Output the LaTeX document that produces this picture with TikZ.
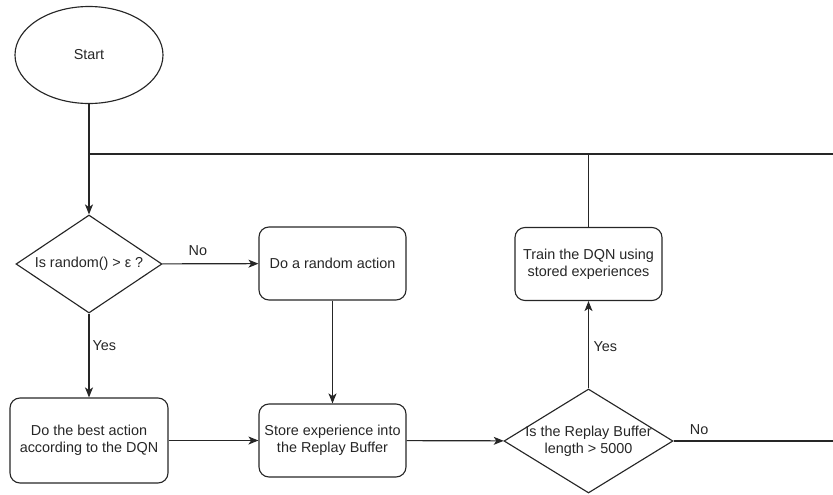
\documentclass[tikz,border=0pt]{standalone}
\usepackage{fontspec}
\setmainfont{Liberation Sans}
\usetikzlibrary{shapes.geometric,arrows.meta}

\tikzset{
  every node/.style={font=\fontsize{10.8pt}{12.6pt}\selectfont, text=black!85},
  flow/.style={draw=black!85, line width=0.85pt},
  arr/.style={flow, -{Stealth[length=7.5pt,width=6pt,inset=2pt]}},
  procbox/.style={draw=black!85, line width=0.85pt, rounded corners=7.5pt,
    minimum width=110.25pt, minimum height=54.75pt, align=center, inner sep=1pt},
  decision/.style={draw=black!85, line width=0.85pt, shape=diamond,
    inner sep=0pt, aspect=1.5},
  terminal/.style={draw=black!85, line width=0.85pt, shape=ellipse,
    minimum width=111pt, minimum height=72.75pt},
  edgelabel/.style={font=\fontsize{10.8pt}{12.6pt}\selectfont}
}

\begin{document}
\begin{tikzpicture}[x=0.75pt, y=-0.75pt]
  \useasboundingbox (0,0) rectangle (833,494);

  % nodes
  \node[terminal] (start) at (89,55) {Start};
  \node[decision, minimum width=109.5pt, minimum height=73.5pt,
        label={center:Is random() > ε ?}] (rnd) at (89,264) {};
  \node[procbox] (randact) at (332.5,263.5) {Do a random action};
  \node[procbox, minimum width=118.5pt, minimum height=63.75pt] (best) at (89,440.5)
        {Do the best action\\according to the DQN};
  \node[procbox] (store) at (332.5,440.5) {Store experience into\\the Replay Buffer};
  \node[decision, minimum width=126.75pt, minimum height=78pt,
        label={[align=center]center:Is the Replay Buffer\\length > 5000}] (len) at (588.5,441) {};
  \node[procbox] (train) at (588.5,264) {Train the DQN using\\stored experiences};

  % loop-back rail across the top
  \coordinate (jl) at (89,154);
  \coordinate (jr) at (833,154);
  \coordinate (noend) at (833,441);

  % connectors
  \draw[arr] (start) -- (rnd);
  \draw[flow] (jl) -- (jr);
  \draw[arr] (rnd) -- node[edgelabel, above, pos=0.37, yshift=2pt] {No} (randact);
  \draw[arr] (rnd) -- node[edgelabel, right, pos=0.38, xshift=-1pt] {Yes} (best);
  \draw[arr] (randact) -- (store);
  \draw[arr] (best) -- (store);
  \draw[arr] (store) -- (len);
  \draw[flow] (len) -- node[edgelabel, above, pos=0.16, yshift=1pt] {No} (noend);
  \draw[arr] (len) -- node[edgelabel, right, pos=0.48] {Yes} (train);
  \draw[flow] (train.north) -- (train.north |- jr);
\end{tikzpicture}
\end{document}
